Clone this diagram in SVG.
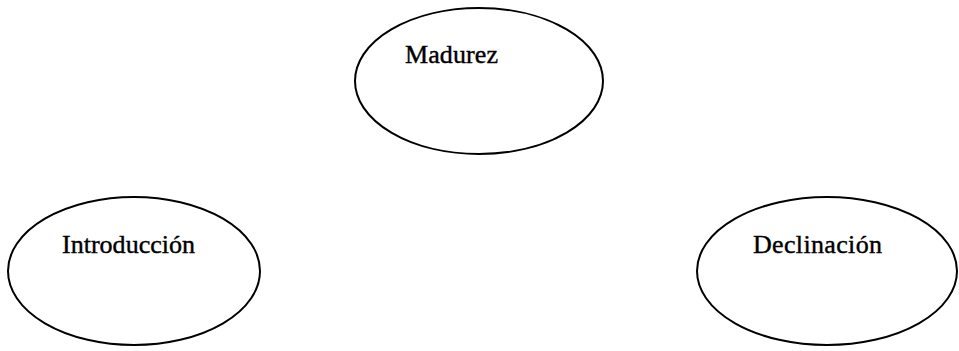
<svg xmlns="http://www.w3.org/2000/svg" width="959" height="351" viewBox="0 0 959 351">
<style>
.n{fill:#fff;stroke:#000;stroke-width:2}
.t{font-family:"Liberation Serif",serif;font-size:26px;fill:#000;stroke:#000;stroke-width:0.4}
</style>
<rect width="959" height="351" fill="#fff"/>
<g id="connectors"></g>
<g id="madurez"><ellipse class="n" cx="479" cy="81" rx="124" ry="73"/><text class="t" x="405" y="63" textLength="93">Madurez</text></g>
<g id="introduccion"><ellipse class="n" cx="134" cy="271" rx="126" ry="74"/><text class="t" x="62" y="253" textLength="133">Introducción</text></g>
<g id="declinacion"><ellipse class="n" cx="827" cy="271" rx="130" ry="74"/><text class="t" x="753" y="253" textLength="129">Declinación</text></g>
</svg>
